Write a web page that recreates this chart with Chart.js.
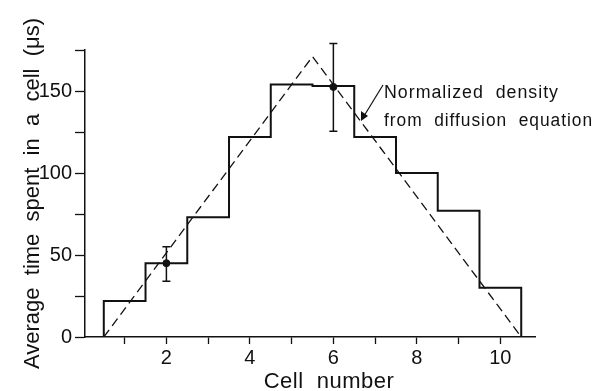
<!DOCTYPE html>
<html>
<head>
<meta charset="utf-8">
<script src="https://cdn.jsdelivr.net/npm/chart.js@4.4.1/dist/chart.umd.min.js"></script>
<style>
    html, body { margin: 0; padding: 0; background: #fff; }
    #wrap { width: 597px; height: 391px; }
</style>
</head>
<body>
<div id="wrap"><canvas id="cellChart" width="597" height="391"></canvas></div>
<script>
// Datos
const cells = [1, 2, 3, 4, 5, 6, 7, 8, 9, 10];
const timePerCell = [22, 45, 73, 122, 154, 153, 122, 100, 77, 30];
const theoryX = [0.5, 5.5, 10.5];
const theoryY = [0, 171, 0];
const errCells = [2, 6];
const errMean = [45, 152.5];
const errLow = [34, 125.5];
const errHigh = [55, 179];
const xTicks = [1, 2, 3, 4, 5, 6, 7, 8, 9, 10];
const yTicks = [0, 25, 50, 75, 100, 125, 150, 175];

const ink = '#111';
const fontFamily = '"Liberation Sans", Arial, sans-serif';

// Histograma escalonado a partir de los valores por celda
function buildSteps() {
    const pts = [{ x: cells[0] - 0.5, y: 0 }];
    cells.forEach((c, i) => {
        pts.push({ x: c - 0.5, y: timePerCell[i] });
        pts.push({ x: c + 0.5, y: timePerCell[i] });
    });
    pts.push({ x: cells[cells.length - 1] + 0.5, y: 0 });
    return pts;
}

// Barras de error, anotación y título del eje x
const extrasPlugin = {
    id: 'extras',
    afterDatasetsDraw(chart) {
        const ctx = chart.ctx;
        const xs = chart.scales.x;
        const ys = chart.scales.y;
        ctx.save();
        ctx.strokeStyle = ink;
        ctx.lineWidth = 1.5;
        errCells.forEach((c, i) => {
            const px = xs.getPixelForValue(c);
            const top = ys.getPixelForValue(errHigh[i]);
            const bot = ys.getPixelForValue(errLow[i]);
            ctx.beginPath();
            ctx.moveTo(px, top); ctx.lineTo(px, bot);
            ctx.moveTo(px - 4, top); ctx.lineTo(px + 4, top);
            ctx.moveTo(px - 4, bot); ctx.lineTo(px + 4, bot);
            ctx.stroke();
        });

        // flecha de la anotación
        ctx.lineWidth = 1.2;
        ctx.beginPath();
        ctx.moveTo(383, 85);
        ctx.lineTo(364, 116);
        ctx.stroke();
        ctx.fillStyle = ink;
        ctx.beginPath();
        ctx.moveTo(361, 121);
        ctx.lineTo(361, 111);
        ctx.lineTo(368, 116);
        ctx.closePath();
        ctx.fill();

        ctx.fillStyle = ink;
        ctx.textBaseline = 'alphabetic';
        ctx.textAlign = 'left';
        ctx.font = '18px ' + fontFamily;
        ctx.letterSpacing = '1px';
        ctx.fillText('Normalized  density', 384, 98, 175);
        ctx.fillText('from  diffusion  equation', 384, 126, 209);

        ctx.font = '22px ' + fontFamily;
        ctx.letterSpacing = '0.5px';
        ctx.textAlign = 'center';
        ctx.fillText('Cell  number', 329, 388);
        ctx.restore();
    }
};

function createChart() {
    const ctx = document.getElementById('cellChart').getContext('2d');
    new Chart(ctx, {
        type: 'scatter',
        data: {
            datasets: [{
                label: 'Histograma',
                data: buildSteps(),
                showLine: true,
                borderColor: ink,
                borderWidth: 2,
                pointRadius: 0,
                fill: false
            }, {
                label: 'Difusión',
                data: theoryX.map((x, i) => ({ x: x, y: theoryY[i] })),
                showLine: true,
                borderColor: ink,
                borderWidth: 1.3,
                borderDash: [9, 5],
                pointRadius: 0,
                fill: false
            }, {
                label: 'Medidas',
                data: errCells.map((c, i) => ({ x: c, y: errMean[i] })),
                showLine: false,
                pointRadius: 3.5,
                pointBackgroundColor: ink,
                pointBorderColor: ink
            }]
        },
        options: {
            responsive: false,
            animation: false,
            layout: { padding: { top: 50, right: 62, left: 0, bottom: 0 } },
            plugins: {
                legend: { display: false },
                tooltip: { enabled: false }
            },
            scales: {
                x: {
                    type: 'linear',
                    min: 0.05,
                    max: 10.83,
                    afterBuildTicks: (scale) => { scale.ticks = xTicks.map(v => ({ value: v })); },
                    afterFit: (scale) => { scale.height = 54; },
                    grid: { drawOnChartArea: false, tickLength: 7, tickColor: ink, tickWidth: 1.3 },
                    border: { color: ink, width: 1.5 },
                    ticks: {
                        color: ink,
                        padding: 2,
                        maxRotation: 0,
                        autoSkip: false,
                        font: { family: fontFamily, size: 20 },
                        callback: (v) => (v % 2 === 0 ? String(v) : '')
                    }
                },
                y: {
                    min: 0,
                    max: 175,
                    afterBuildTicks: (scale) => { scale.ticks = yTicks.map(v => ({ value: v })); },
                    afterFit: (scale) => { scale.width = 85; },
                    grid: { drawOnChartArea: false, tickLength: 10, tickColor: ink, tickWidth: 1.3 },
                    border: { color: ink, width: 1.5 },
                    title: {
                        display: true,
                        text: 'Average  time  spent  in  a  cell  (μs)',
                        color: ink,
                        font: { family: fontFamily, size: 22 },
                        padding: { top: 20, bottom: 0 }
                    },
                    ticks: {
                        color: ink,
                        padding: 3,
                        autoSkip: false,
                        font: { family: fontFamily, size: 20 },
                        callback: (v) => (v % 50 === 0 ? String(v) : '')
                    }
                }
            }
        },
        plugins: [extrasPlugin]
    });
}

document.addEventListener('DOMContentLoaded', createChart);
</script>
</body>
</html>
